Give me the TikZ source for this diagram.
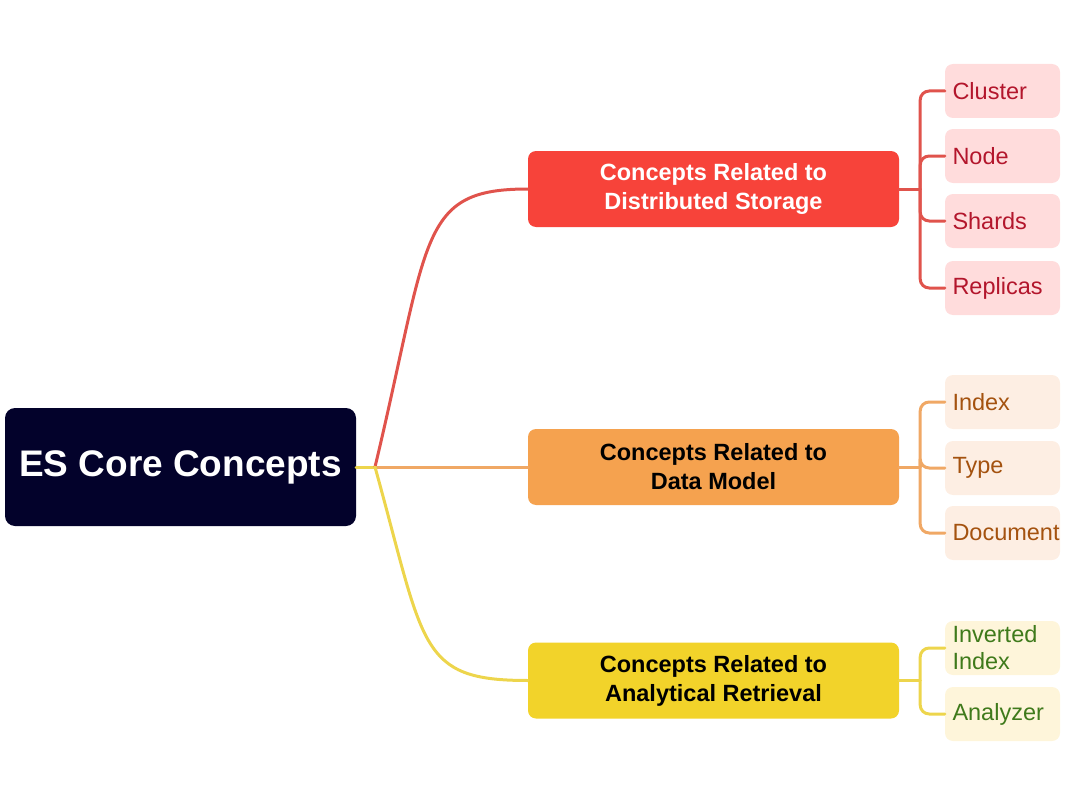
\documentclass[tikz,border=0pt]{standalone}
\usepackage{fontspec}
\setmainfont{Liberation Sans}
\usepackage{xcolor}
\usepackage{tikz}

\definecolor{rootbg}{HTML}{03022B}
\definecolor{redbox}{HTML}{F7433A}
\definecolor{redline}{HTML}{E0534C}
\definecolor{redleaf}{HTML}{FFDCDC}
\definecolor{redtext}{HTML}{B3162C}
\definecolor{orangebox}{HTML}{F5A24F}
\definecolor{orangeline}{HTML}{F0A865}
\definecolor{orangeleaf}{HTML}{FDEEE3}
\definecolor{orangetext}{HTML}{A4520F}
\definecolor{yellowbox}{HTML}{F2D32A}
\definecolor{yellowline}{HTML}{EDD54C}
\definecolor{yellowleaf}{HTML}{FEF5DA}
\definecolor{yellowtext}{HTML}{3F7A1B}

\begin{document}
\begin{tikzpicture}[x=1pt, y=-1pt,
    root/.style={fill=rootbg, text=white, rounded corners=10pt, minimum width=351pt, minimum height=118pt, font=\bfseries\fontsize{37}{44}\selectfont},
    branch/.style={rounded corners=8pt, minimum width=371pt, minimum height=76pt, align=center, font=\bfseries\fontsize{23.5}{29}\selectfont},
    leaf/.style={rounded corners=8pt, minimum height=54pt, text width=100pt, inner xsep=7.5pt, align=left, font=\fontsize{23.5}{27}\selectfont},
    conn/.style={line width=3pt, line cap=round}]
    \useasboundingbox (0,0) rectangle (1080,808);

    \node[root] (root) at (180.5,467) {ES Core Concepts};
    \coordinate (hub) at (375,467);

    \node[branch, fill=redbox, text=white] (storage) at (713.5,189) {Concepts Related to\\Distributed Storage};
    \node[branch, fill=orangebox] (model) at (713.5,467) {Concepts Related to\\Data Model};
    \node[branch, fill=yellowbox] (retrieval) at (713.5,680.5) {Concepts Related to\\Analytical Retrieval};

    \draw[conn, yellowline] (root.east) -- (hub);
    \draw[conn, redline] (hub) .. controls +(55,-230) and +(-110,0) .. (storage.west);
    \draw[conn, orangeline] (hub) -- (model.west);
    \draw[conn, yellowline] (hub) .. controls +(50,180) and +(-110,0) .. (retrieval.west);

    \coordinate (spine1) at ([xshift=21pt]storage.east);
    \coordinate (spine2) at ([xshift=21pt]model.east);
    \coordinate (spine3) at ([xshift=21pt]retrieval.east);
    \draw[conn, redline] (storage.east) -- (spine1);
    \draw[conn, orangeline] (model.east) -- (spine2);
    \draw[conn, yellowline] (retrieval.east) -- (spine3);

    \foreach \n/\txt/\y in {cluster/Cluster/91, srvnode/Node/156, shards/Shards/221, replicas/Replicas/288} {
        \node[leaf, fill=redleaf, text=redtext] (\n) at (1002.5,\y) {\txt};
        \draw[conn, redline, rounded corners=9pt] (spine1) |- (\n.west);
    }
    \foreach \n/\txt/\y in {index/Index/402, type/Type/468, document/Document/533} {
        \node[leaf, fill=orangeleaf, text=orangetext] (\n) at (1002.5,\y) {\txt};
        \draw[conn, orangeline, rounded corners=9pt] (spine2) |- (\n.west);
    }
    \foreach \n/\txt/\y in {invindex/{Inverted\\Index}/648, analyzer/Analyzer/714} {
        \node[leaf, fill=yellowleaf, text=yellowtext] (\n) at (1002.5,\y) {\txt};
        \draw[conn, yellowline, rounded corners=9pt] (spine3) |- (\n.west);
    }
\end{tikzpicture}
\end{document}
